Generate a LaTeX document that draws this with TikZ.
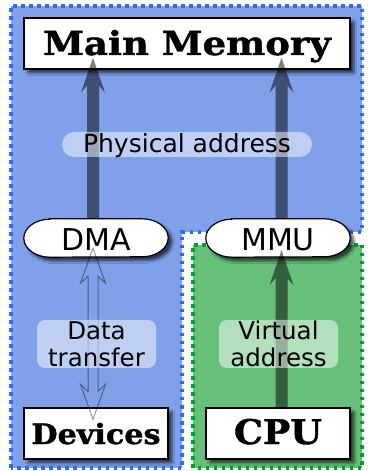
\documentclass[tikz,border=0pt]{standalone}
\usepackage{fontspec}
\setmainfont{DejaVu Sans}
\newfontfamily\unitfont{DejaVu Serif}[BoldFeatures={FakeBold=1.2}]
\usetikzlibrary{calc,shadows.blur}

\definecolor{memblue}{RGB}{128,160,234}
\definecolor{dotblue}{RGB}{45,107,240}
\definecolor{cpugreen}{RGB}{102,192,122}
\definecolor{dotgreen}{RGB}{0,162,46}

\tikzset{
  region/.style={line width=3.5pt, dash pattern=on 3.5pt off 4.5pt},
  boxshadow/.style={blur shadow={shadow xshift=4pt, shadow yshift=-4pt,
      shadow blur radius=2.5pt, shadow opacity=65}},
  unitbox/.style={draw=black, line width=1.2pt, fill=white, boxshadow,
      inner sep=0pt, text depth=0pt},
  capsule/.style={inner sep=0pt, minimum width=144pt, minimum height=38pt},
  capsuletext/.style={inner sep=0pt, text height=26pt, text depth=0pt,
      font=\fontsize{30}{36}\selectfont},
  tagpill/.style={fill=white, fill opacity=0.5, text opacity=1, inner sep=0pt,
      align=center},
  bus/.style={fill=black, fill opacity=0.5},
  transfer/.style={draw=black, draw opacity=0.4, line width=1pt}
}

% thick straight bus arrow from #1 up to the tip at #2
\newcommand\fatarrow[2]{%
  \path[bus] let \p1=(#1), \p2=(#2) in
    (\x1-6pt,\y1) -- (\x1-6pt,\y2-28pt) -- (\x1-12pt,\y2-35pt) -- (\x1,\y2)
    -- (\x1+12pt,\y2-35pt) -- (\x1+6pt,\y2-28pt) -- (\x1+6pt,\y1) -- cycle;}

% white capsule outline filling the frame of a capsule node
\newcommand\capsuleshape[1]{%
  \path[fill=white, draw=black, line width=1.2pt, boxshadow]
    ([xshift=26pt]#1.north west) -- ([xshift=-26pt]#1.north east)
    arc[start angle=90, end angle=-90, x radius=26pt, y radius=19pt]
    -- ([xshift=26pt]#1.south west)
    arc[start angle=270, end angle=90, x radius=26pt, y radius=19pt] -- cycle;}

\begin{document}
\begin{tikzpicture}[x=1pt, y=1pt]
\useasboundingbox (0,0) rectangle (367,471);

% address-space regions
\path[region, fill=memblue, draw=dotblue]
  (11,3) -- (11,465) -- (362,465) -- (362,239) -- (182,239) -- (182,3) -- cycle;
\path[region, fill=cpugreen, draw=dotgreen]
  (193,3) -- (193,226) -- (362,226) -- (362,3) -- cycle;

% units
\node[unitbox, minimum width=326pt, minimum height=51pt, text height=23pt,
      font=\unitfont\bfseries\fontsize{33}{40}\selectfont]
  (mm) at (187,427.5) {\scalebox{1.12}[1]{Main Memory}};
\node[unitbox, minimum width=144pt, minimum height=51pt, text height=21pt,
      font=\unitfont\bfseries\fontsize{28}{34}\selectfont]
  (dev) at (96,37.5) {\scalebox{1.08}[1]{Devices}};
\node[unitbox, minimum width=144pt, minimum height=51pt, text height=21pt,
      font=\unitfont\bfseries\fontsize{34}{40}\selectfont]
  (cpu) at (278,37.5) {\scalebox{1.07}[1]{CPU}};

\node[capsule] (dma) at (96,233) {};
\node[capsule] (mmu) at (278,233) {};
\capsuleshape{dma}
\capsuleshape{mmu}
\node[capsuletext] (dmatext) at (dma.center) {DMA};
\node[capsuletext] (mmutext) at (mmu.center) {MMU};

% physical and virtual address buses
\coordinate (dmaout) at ([xshift=-3pt]dma.north);
\coordinate (mmuout) at ([xshift=3.5pt]mmu.north);
\coordinate (cpuout) at ([xshift=3.5pt]cpu.north);
\fatarrow{dmaout}{[yshift=12pt]mm.south}
\fatarrow{mmuout}{[yshift=12pt]mm.south}
\fatarrow{cpuout}{[yshift=7pt]mmu.south}

% data transfer between devices and DMA
\coordinate (dtop) at ([xshift=-3pt, yshift=9pt]dma.south);
\coordinate (dbot) at ([xshift=-3pt, yshift=-12pt]dev.north);
\path[transfer] let \p1=(dtop), \p2=(dbot) in
  (\x1,\y1) -- (\x1+12.5pt,\y1-35pt) -- (\x1+5pt,\y1-28pt)
  -- (\x1+5pt,\y2+28pt) -- (\x1+12.5pt,\y2+35pt) -- (\x1,\y2)
  -- (\x1-12.5pt,\y2+35pt) -- (\x1-5pt,\y2+28pt)
  -- (\x1-5pt,\y1-28pt) -- (\x1-12.5pt,\y1-35pt) -- cycle;

% labels
\node[tagpill, rounded corners=12.5pt, minimum width=250pt, minimum height=25pt,
      text height=17pt, text depth=0pt, font=\fontsize{25}{30}\selectfont]
  (phys) at (187,326.5) {Physical address};
\node[tagpill, rounded corners=8pt, minimum width=119pt, minimum height=48pt,
      font=\fontsize{24.5}{26.5}\selectfont]
  (data) at (96.5,127) {Data\\transfer};
\node[tagpill, rounded corners=8pt, minimum width=119pt, minimum height=48pt,
      font=\fontsize{24.5}{26.5}\selectfont]
  (virt) at (278.5,127) {Virtual\\address};
\end{tikzpicture}
\end{document}
